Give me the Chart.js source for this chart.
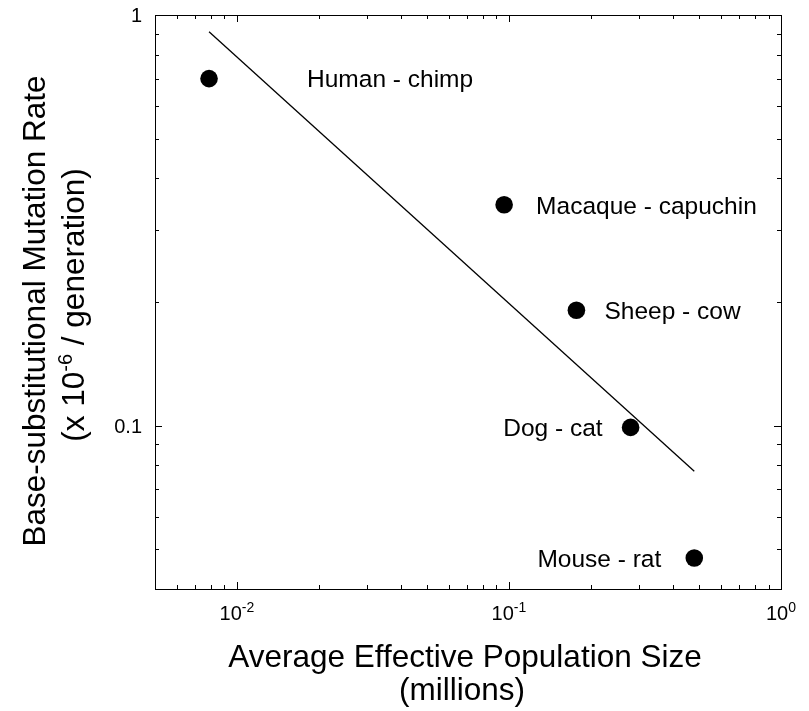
<!DOCTYPE html>
<html>
<head>
<meta charset="utf-8">
<script src="https://cdn.jsdelivr.net/npm/chart.js@4.4.1/dist/chart.umd.min.js"></script>
<style>
  html, body { margin: 0; padding: 0; background: #fff; }
  #wrap { width: 809px; height: 711px; position: relative; }
</style>
</head>
<body>
<div id="wrap"><canvas id="chart"></canvas></div>
<script>
// species pairs and their values
const pairs = ['Human - chimp', 'Macaque - capuchin', 'Sheep - cow', 'Dog - cat', 'Mouse - rat'];
const popSize = [0.0079, 0.096, 0.177, 0.28, 0.48];      // millions
const mutRate = [0.70, 0.345, 0.191, 0.099, 0.0476];    // x 10^-6 / generation

// fitted line end points
const fitX = [0.0079, 0.48];
const fitY = [0.91, 0.0774];

// axis ranges and tick labels
const xRange = [0.005, 1];
const yRange = [0.04, 1];
const xTicks = [0.01, 0.1, 1];
const xTickExp = ['-2', '-1', '0'];
const yTicks = [0.1, 1];
const yTickLabels = ['0.1', '1'];

const xTitle = ['Average Effective Population Size', '(millions)'];
const yTitle = ['Base-substitutional Mutation Rate', '(x 10', '-6', ' / generation)'];

// where each label sits next to its dot
const labelPlace = [
    { align: 'left', dx: 98 },
    { align: 'left', dx: 32 },
    { align: 'left', dx: 28 },
    { align: 'right', dx: -28 },
    { align: 'right', dx: -33 }
];

const FONT = "'Liberation Sans', Arial, Helvetica, sans-serif";

function font(size) {
    return size + 'px ' + FONT;
}

// frame, inward log ticks, tick labels, titles and point labels
const decorations = {
    id: 'decorations',
    afterDraw(chart) {
        const ctx = chart.ctx;
        const area = chart.chartArea;
        const xs = chart.scales.x;
        const ys = chart.scales.y;

        ctx.save();
        ctx.strokeStyle = '#000';
        ctx.lineWidth = 1;
        ctx.strokeRect(area.left + 0.5, area.top + 0.5, area.right - area.left, area.bottom - area.top);

        // log ticks on all four sides
        const logTicks = (min, max) => {
            const out = [];
            for (let e = Math.floor(Math.log10(min)); e <= Math.ceil(Math.log10(max)); e++) {
                for (let m = 1; m <= 9; m++) {
                    const v = m * Math.pow(10, e);
                    if (v >= min * 0.9999 && v <= max * 1.0001) out.push({ v, major: m === 1 });
                }
            }
            return out;
        };
        ctx.beginPath();
        logTicks(xRange[0], xRange[1]).forEach(t => {
            const px = Math.round(xs.getPixelForValue(t.v)) + 0.5;
            const len = t.major ? 7 : 4;
            ctx.moveTo(px, area.bottom);
            ctx.lineTo(px, area.bottom - len);
            ctx.moveTo(px, area.top);
            ctx.lineTo(px, area.top + len);
        });
        logTicks(yRange[0], yRange[1]).forEach(t => {
            const py = Math.round(ys.getPixelForValue(t.v)) + 0.5;
            const len = t.major ? 7 : 4;
            ctx.moveTo(area.left, py);
            ctx.lineTo(area.left + len, py);
            ctx.moveTo(area.right, py);
            ctx.lineTo(area.right - len, py);
        });
        ctx.stroke();

        ctx.fillStyle = '#000';
        ctx.textBaseline = 'alphabetic';

        // x tick labels 10^n
        xTicks.forEach((v, i) => {
            const px = xs.getPixelForValue(v);
            ctx.font = font(20);
            const wBase = ctx.measureText('10').width;
            ctx.font = font(14);
            const wSup = ctx.measureText(xTickExp[i]).width;
            const x0 = px - (wBase + wSup) / 2;
            ctx.textAlign = 'left';
            ctx.font = font(20);
            ctx.fillText('10', x0, area.bottom + 31);
            ctx.font = font(14);
            ctx.fillText(xTickExp[i], x0 + wBase, area.bottom + 23);
        });

        // y tick labels
        ctx.font = font(20);
        ctx.textAlign = 'right';
        yTicks.forEach((v, i) => {
            const py = ys.getPixelForValue(v);
            ctx.fillText(yTickLabels[i], area.left - 13, py + 7.2);
        });

        // x title
        ctx.font = font(31.5);
        ctx.textAlign = 'center';
        ctx.fillText(xTitle[0], 465, 667);
        ctx.fillText(xTitle[1], 462, 700);

        // y title, rotated
        ctx.save();
        ctx.translate(45, 311);
        ctx.rotate(-Math.PI / 2);
        ctx.fillText(yTitle[0], 0, 0);
        ctx.restore();

        ctx.save();
        ctx.translate(84, 305);
        ctx.rotate(-Math.PI / 2);
        ctx.textAlign = 'left';
        ctx.font = font(31.5);
        const w1 = ctx.measureText(yTitle[1]).width;
        const w3 = ctx.measureText(yTitle[3]).width;
        ctx.font = font(20);
        const w2 = ctx.measureText(yTitle[2]).width;
        let x = -(w1 + w2 + w3) / 2;
        ctx.font = font(31.5);
        ctx.fillText(yTitle[1], x, 0);
        x += w1;
        ctx.font = font(20);
        ctx.fillText(yTitle[2], x, -12);
        x += w2;
        ctx.font = font(31.5);
        ctx.fillText(yTitle[3], x, 0);
        ctx.restore();

        // point labels
        const meta = chart.getDatasetMeta(0);
        ctx.font = font(24.5);
        pairs.forEach((name, i) => {
            const pt = meta.data[i];
            const place = labelPlace[i];
            ctx.textAlign = place.align;
            ctx.fillText(name, pt.x + place.dx, pt.y + 8.8);
        });

        ctx.restore();
    }
};

const ctxChart = document.getElementById('chart').getContext('2d');
new Chart(ctxChart, {
    type: 'scatter',
    data: {
        datasets: [{
            label: 'Pairs',
            data: popSize.map((x, i) => ({ x: x, y: mutRate[i] })),
            backgroundColor: '#000',
            borderWidth: 0,
            pointRadius: 8.8,
            pointHoverRadius: 8.8
        }, {
            label: 'Fit',
            data: fitX.map((x, i) => ({ x: x, y: fitY[i] })),
            showLine: true,
            borderColor: '#000',
            borderWidth: 1.3,
            pointRadius: 0,
            fill: false
        }]
    },
    plugins: [decorations],
    options: {
        responsive: true,
        maintainAspectRatio: false,
        animation: false,
        events: [],
        layout: {
            padding: { left: 155, right: 28, top: 15, bottom: 122 }
        },
        plugins: {
            legend: { display: false },
            tooltip: { enabled: false }
        },
        scales: {
            x: {
                type: 'logarithmic',
                min: xRange[0],
                max: xRange[1],
                display: false
            },
            y: {
                type: 'logarithmic',
                min: yRange[0],
                max: yRange[1],
                display: false
            }
        }
    }
});
</script>
</body>
</html>
